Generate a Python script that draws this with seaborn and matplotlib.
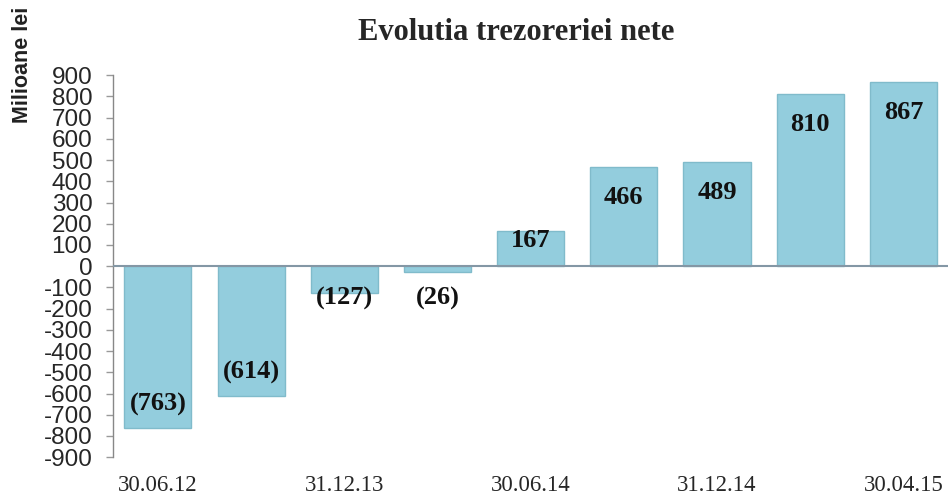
import seaborn as sns
import pandas as pd
from matplotlib import pyplot as plt

# ---------------- data ----------------
dates = ['30.06.12', '31.12.12', '31.12.13', '31.03.14', '30.06.14',
         '30.09.14', '31.12.14', '31.03.15', '30.04.15']
values = [-763, -614, -127, -26, 167, 466, 489, 810, 867]
shown_labels = ['30.06.12', '', '31.12.13', '', '30.06.14', '', '31.12.14', '', '30.04.15']
y_ticks = list(range(-900, 1000, 100))

df = pd.DataFrame({'data': dates, 'valoare': values})

# ---------------- plot ----------------
sns.set_style('white')
fig = plt.figure(figsize=(9.51, 4.98), dpi=100)
ax = fig.add_axes([0.119, 0.082, 0.878, 0.767])

sns.barplot(data=df, x='data', y='valoare', color='#93CDDD', saturation=1,
            width=0.72, edgecolor='#80BBCB', linewidth=1, ax=ax)

ax.axhline(0, color='#8497A5', lw=1.5, zorder=3)
ax.set_xlim(-0.48, 8.48)
ax.set_ylim(-900, 900)
ax.set_yticks(y_ticks)
ax.set_yticklabels([str(t) for t in y_ticks], fontsize=17.5,
                   family='Liberation Sans')
ax.set_xticks(range(len(dates)))
ax.set_xticklabels(shown_labels, fontsize=16.5, family='Liberation Serif')
ax.tick_params(axis='x', length=0, pad=13)
ax.tick_params(axis='y', left=True, length=5, width=1, color='#999999',
               pad=10, direction='out')
ax.set_xlabel('')
ax.set_ylabel('')
for s in ['top', 'right', 'bottom']:
    ax.spines[s].set_visible(False)
ax.spines['left'].set_color('#888888')
ax.spines['left'].set_linewidth(1)

# value labels
for i, v in enumerate(values):
    txt = f'({abs(v)})' if v < 0 else str(v)
    if v >= 300:
        y, off = v, -30
    elif v > 0:
        y, off = v, -10
    elif v <= -300:
        y, off = v, 24
    else:
        y, off = 0, -32
    ax.annotate(txt, (i, y), xytext=(0, off), textcoords='offset pixels',
                ha='center', va='center', fontsize=19, fontweight='bold',
                family='Liberation Serif', color='#111111', zorder=4)

fig.text(0.543, 0.935, 'Evolutia trezoreriei nete', ha='center', va='center',
         fontsize=22, fontweight='bold', family='Liberation Serif')
fig.text(0.024, 0.87, 'Milioane lei', rotation=90, ha='center', va='center',
         fontsize=15.5, fontweight='bold', family='Liberation Sans', color='#222222')

fig.savefig('out.png', dpi=100)
